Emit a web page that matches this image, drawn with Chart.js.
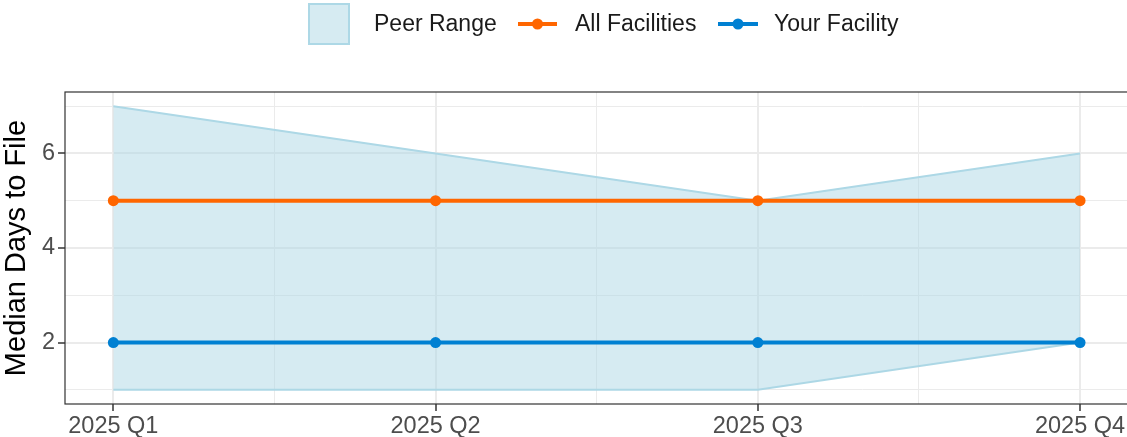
<!DOCTYPE html>
<html>
<head>
<meta charset="utf-8">
<script src="https://cdn.jsdelivr.net/npm/chart.js@4.4.1/dist/chart.umd.min.js"></script>
<style>
html,body{margin:0;padding:0;background:#fff;overflow:hidden;width:1127px;height:437px;}
canvas{display:block;}
</style>
</head>
<body>
<canvas id="c" width="1140" height="437"></canvas>
<script>
const quarters = ["2025 Q1", "2025 Q2", "2025 Q3", "2025 Q4"];
const peerLow = [1, 1, 1, 2];
const peerHigh = [7, 6, 5, 6];
const allFacilities = [5, 5, 5, 5];
const yourFacility = [2, 2, 2, 2];
const yMajorTicks = [2, 4, 6];

const FONT = "'Liberation Sans', Arial, Helvetica, sans-serif";
const ORANGE = "#FF6600";
const BLUE = "#0080D2";
const RIBBON_FILL = "rgba(173,216,230,0.5)";
const RIBBON_LINE = "#ADD8E6";
const GRID = "#EBEBEB";

const toXY = arr => arr.map((v, i) => ({x: i + 1, y: v}));

const legendPlugin = {
  id: 'ggLegend',
  afterDraw(chart) {
    const ctx = chart.ctx;
    ctx.save();
    const cy = 24;
    ctx.fillStyle = RIBBON_FILL;
    ctx.fillRect(309, 4, 40, 40);
    ctx.strokeStyle = RIBBON_LINE;
    ctx.lineWidth = 2;
    ctx.strokeRect(309, 4, 40, 40);
    ctx.font = "23px " + FONT;
    ctx.fillStyle = "#1A1A1A";
    ctx.textBaseline = "middle";
    ctx.textAlign = "left";
    ctx.fillText("Peer Range", 374, cy + 1);
    const lineKey = (x0, x1, col, label, tx) => {
      ctx.strokeStyle = col;
      ctx.lineWidth = 4;
      ctx.beginPath(); ctx.moveTo(x0, cy); ctx.lineTo(x1, cy); ctx.stroke();
      ctx.fillStyle = col;
      ctx.beginPath(); ctx.arc((x0 + x1) / 2, cy, 5.5, 0, Math.PI * 2); ctx.fill();
      ctx.fillStyle = "#1A1A1A";
      ctx.fillText(label, tx, cy + 1);
    };
    lineKey(518, 557, ORANGE, "All Facilities", 575);
    lineKey(718, 758, BLUE, "Your Facility", 774);
    const a = chart.chartArea;
    ctx.strokeStyle = "#333333";
    ctx.lineWidth = 1.2;
    ctx.strokeRect(a.left, a.top, a.right - a.left, a.bottom - a.top);
    ctx.restore();
  }
};

const isMajorY = v => yMajorTicks.includes(v);
const isMajorX = v => Number.isInteger(v);

new Chart(document.getElementById('c'), {
  type: 'line',
  data: {
    datasets: [
      {label: 'Peer High', data: toXY(peerHigh), fill: '+1', backgroundColor: RIBBON_FILL,
       borderColor: RIBBON_LINE, borderWidth: 2, pointRadius: 0, tension: 0, order: 3},
      {label: 'Peer Low', data: toXY(peerLow), fill: false, borderColor: RIBBON_LINE,
       borderWidth: 2, pointRadius: 0, tension: 0, order: 4},
      {label: 'All Facilities', data: toXY(allFacilities), borderColor: ORANGE, backgroundColor: ORANGE,
       borderWidth: 4, pointRadius: 5.5, pointBorderWidth: 0, pointHoverRadius: 5.5, fill: false, tension: 0, order: 1},
      {label: 'Your Facility', data: toXY(yourFacility), borderColor: BLUE, backgroundColor: BLUE,
       borderWidth: 4, pointRadius: 5.5, pointBorderWidth: 0, pointHoverRadius: 5.5, fill: false, tension: 0, order: 0}
    ]
  },
  options: {
    responsive: false,
    animation: false,
    devicePixelRatio: 1,
    layout: {padding: {left: 0, right: 11.6, top: 92, bottom: 0}},
    plugins: {legend: {display: false}, tooltip: {enabled: false}},
    scales: {
      x: {
        type: 'linear', min: 0.85, max: 4.15,
        afterBuildTicks: s => { s.ticks = [1, 1.5, 2, 2.5, 3, 3.5, 4].map(v => ({value: v})); },
        afterFit: s => { s.height = 33; },
        ticks: {
          autoSkip: false, maxRotation: 0, padding: 1,
          color: "#4D4D4D", font: {family: FONT, size: 23.5},
          callback: v => isMajorX(v) ? quarters[v - 1] : ''
        },
        grid: {
          color: GRID,
          lineWidth: c => isMajorX(c.tick.value) ? 2 : 1,
          tickColor: c => isMajorX(c.tick.value) ? "#333333" : "rgba(0,0,0,0)",
          tickLength: 7, tickWidth: 1.5
        },
        border: {display: false}
      },
      y: {
        type: 'linear', min: 0.7, max: 7.3,
        afterBuildTicks: s => { s.ticks = [1, 2, 3, 4, 5, 6, 7].map(v => ({value: v})); },
        afterFit: s => { s.width = 65; },
        ticks: {
          padding: 3, color: "#4D4D4D", font: {family: FONT, size: 23.5},
          callback: v => isMajorY(v) ? String(v) : ''
        },
        grid: {
          color: GRID,
          lineWidth: c => isMajorY(c.tick.value) ? 2 : 1,
          tickColor: c => isMajorY(c.tick.value) ? "#333333" : "rgba(0,0,0,0)",
          tickLength: 7, tickWidth: 1.5
        },
        border: {display: false},
        title: {display: true, text: "Median Days to File", color: "#000000",
                font: {family: FONT, size: 29}, padding: 0}
      }
    }
  },
  plugins: [legendPlugin]
});
</script>
</body>
</html>
